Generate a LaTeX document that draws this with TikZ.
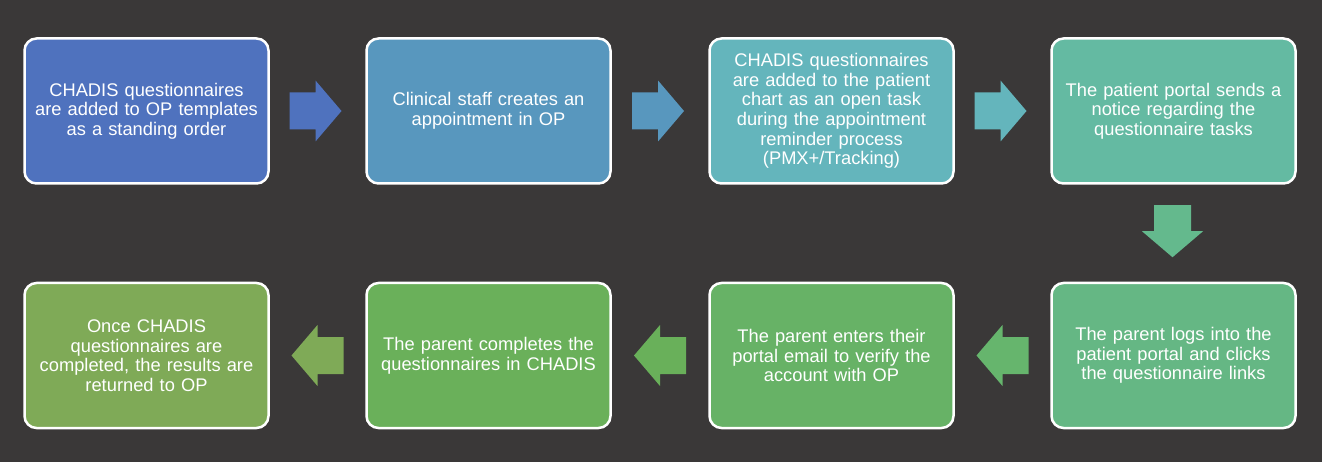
\documentclass[tikz,border=0pt]{standalone}
\usepackage{fontspec}
\setmainfont{Liberation Sans}
\usetikzlibrary{calc}
\definecolor{bg}{HTML}{3A3838}
\definecolor{cA}{HTML}{4F72BE}
\definecolor{cB}{HTML}{5897BE}
\definecolor{cC}{HTML}{64B5BC}
\definecolor{cD}{HTML}{64BAA2}
\definecolor{cDE}{HTML}{64B98D}
\definecolor{cE}{HTML}{65B784}
\definecolor{cEF}{HTML}{66B56D}
\definecolor{cF}{HTML}{67B266}
\definecolor{cFG}{HTML}{69B05A}
\definecolor{cG}{HTML}{6AB05A}
\definecolor{cH}{HTML}{7FAA57}
\newcommand{\blockarr}[3]{%
  \fill[#3, shift={(#1)}, rotate=#2] (-26,-18.5) -- (0,-18.5) -- (0,-30.5) -- (26,0) -- (0,30.5) -- (0,18.5) -- (-26,18.5) -- cycle;}
\begin{document}
\begin{tikzpicture}[x=1pt,y=-1pt,
  box/.style={draw=white, line width=2.5pt, rounded corners=12pt, minimum width=244pt, minimum height=145pt,
    text=white, text width=238pt, align=center, inner sep=0pt,
    font=\fontsize{18.3}{19.6}\selectfont}]
\fill[bg] (0,0) rectangle (1322,462);
\useasboundingbox (0,0) rectangle (1322,462);

\node[box, fill=cA] (b1) at (146.5,111) {CHADIS questionnaires\\ are added to OP templates\\ as a standing order};
\node[box, fill=cB] (b2) at (488.5,111) {Clinical staff creates an\\ appointment in OP};
\node[box, fill=cC] (b3) at (831.5,111) {CHADIS questionnaires\\ are added to the patient\\ chart as an open task\\ during the appointment\\ reminder process\\ (PMX+/Tracking)};
\node[box, fill=cD] (b4) at (1173.5,111) {The patient portal sends a\\ notice regarding the\\ questionnaire tasks};
\node[box, fill=cE] (b5) at (1173.5,355.5) {The parent logs into the\\ patient portal and clicks\\ the questionnaire links};
\node[box, fill=cF] (b6) at (831.5,355.5) {The parent enters their\\ portal email to verify the\\ account with OP};
\node[box, fill=cG] (b7) at (488.5,355.5) {The parent completes the\\ questionnaires in CHADIS};
\node[box, fill=cH] (b8) at (146.5,355.5) {Once CHADIS\\ questionnaires are\\ completed, the results are\\ returned to OP};

\coordinate (m12) at ($(b1.east)!0.5!(b2.west)+(-2,0)$);
\coordinate (m23) at ($(b2.east)!0.5!(b3.west)+(-2,0)$);
\coordinate (m34) at ($(b3.east)!0.5!(b4.west)+(-2,0)$);
\coordinate (m45) at ($(b4.south)!0.5!(b5.north)+(-1,-2)$);
\coordinate (m56) at ($(b6.east)!0.5!(b5.west)+(0,0)$);
\coordinate (m67) at ($(b7.east)!0.5!(b6.west)+(0,0)$);
\coordinate (m78) at ($(b8.east)!0.5!(b7.west)+(0,0)$);

\blockarr{m12}{0}{cA}
\blockarr{m23}{0}{cB}
\blockarr{m34}{0}{cC}
\blockarr{m45}{-90}{cDE}
\blockarr{m56}{180}{cEF}
\blockarr{m67}{180}{cFG}
\blockarr{m78}{180}{cH}
\end{tikzpicture}
\end{document}
